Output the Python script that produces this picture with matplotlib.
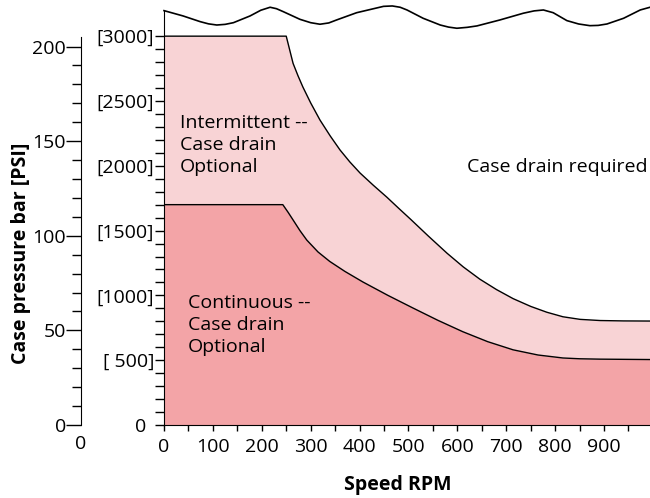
import matplotlib
matplotlib.use("Agg")
import matplotlib.pyplot as plt

plt.rcParams["font.family"] = ["Open Sans", "DejaVu Sans"]

# limit curves (speed rpm -> case pressure psi)
upper_rpm = [0, 250, 257, 264, 274, 284, 300, 319, 340, 360, 380, 401, 428, 456, 480, 505,
             540, 579, 612, 646, 680, 714, 750, 783, 816, 851, 892, 940, 994]
upper_psi = [3000, 3000, 2895, 2790, 2695, 2608, 2485, 2353, 2230, 2122, 2030, 1944, 1850, 1757,
             1672, 1585, 1460, 1325, 1220, 1125, 1045, 975, 915, 870, 835, 815, 806, 803, 802]
lower_rpm = [0, 243, 254, 264, 278, 292, 315, 339, 370, 407, 458, 509, 560, 611, 662, 714,
             765, 816, 850, 892, 994]
lower_psi = [1700, 1700, 1640, 1582, 1500, 1427, 1335, 1262, 1185, 1103, 1000, 903, 808, 720,
             643, 580, 540, 517, 511, 508, 505]

# axis-break wave at the top
wave_rpm = [0, 39, 74, 91, 108, 125, 142, 176, 198, 217, 230, 244, 278, 300, 319, 337, 353,
            394, 449, 467, 483, 497, 530, 565, 582, 599, 620, 640, 687, 735, 757, 776, 796,
            824, 848, 871, 888, 906, 940, 974, 994]
wave_psi = [3197, 3156, 3112, 3095, 3086, 3091, 3104, 3156, 3200, 3223, 3212, 3189, 3130, 3104,
            3092, 3102, 3125, 3181, 3230, 3233, 3223, 3202, 3138, 3086, 3070, 3061, 3068, 3079,
            3125, 3177, 3195, 3202, 3181, 3120, 3094, 3081, 3083, 3094, 3138, 3202, 3223]

psi_ticks = [0, 500, 1000, 1500, 2000, 2500, 3000]
psi_labels = ["0", "[ 500]", "[1000]", "[1500]", "[2000]", "[2500]", "[3000]"]
bar_ticks = [0, 50, 100, 150, 200]
rpm_ticks = [0, 100, 200, 300, 400, 500, 600, 700, 800, 900]

light = "#f8d3d5"
dark = "#f3a4a7"
fs = 14

fig = plt.figure(figsize=(6.5, 4.98), dpi=100)
ax = fig.add_axes([164 / 650, 73 / 498, 486 / 650, 425 / 498])
ax.set_xlim(0, 994)
ax.set_ylim(0, 3279)

ax.fill_between(upper_rpm, upper_psi, color=light, lw=0)
ax.fill_between(lower_rpm, lower_psi, color=dark, lw=0)
ax.plot(upper_rpm, upper_psi, color="black", lw=1, solid_joinstyle="round")
ax.plot(lower_rpm, lower_psi, color="black", lw=1, solid_joinstyle="round")
ax.plot(wave_rpm, wave_psi, color="black", lw=1.2, clip_on=False, solid_joinstyle="round")

for s in ["top", "right"]:
    ax.spines[s].set_visible(False)
ax.spines["left"].set_bounds(0, wave_psi[0])

ax.set_yticks(psi_ticks)
ax.set_yticklabels(psi_labels)
ax.set_yticks(range(0, 3001, 100), minor=True)
ax.tick_params(axis="y", which="both", length=6.5, width=1, pad=0.5, labelsize=fs)
ax.set_xticks(rpm_ticks)
ax.set_xticks(range(50, 951, 100), minor=True)
ax.tick_params(axis="x", which="both", length=4.3, width=1, pad=5, labelsize=fs)
t0 = ax.yaxis.get_major_ticks()[0]
t0.tick1line.set_markersize(11.5)
t0.set_pad(6.5)

ax.text(33, 2160, "Intermittent --\nCase drain\nOptional", fontsize=fs,
        ha="left", va="center", linespacing=1.3)
ax.text(49, 772, "Continuous --\nCase drain\nOptional", fontsize=fs,
        ha="left", va="center", linespacing=1.3)
ax.text(620, 1991, "Case drain required", fontsize=fs, ha="left", va="center")

# bar scale on the far left
bax = fig.add_axes([81 / 650, 73 / 498, 0.05, 425 / 498])
bax.patch.set_visible(False)
for s in ["top", "right", "bottom"]:
    bax.spines[s].set_visible(False)
bax.set_ylim(0, 224.6)
bax.set_xlim(0, 1)
bax.spines["left"].set_bounds(0, 205)
bax.set_yticks(bar_ticks)
bax.set_yticks(range(0, 201, 10), minor=True)
bax.tick_params(axis="y", which="major", length=10.8, width=1, pad=0, labelsize=fs)
bax.tick_params(axis="y", which="minor", length=6.5, width=1)
bax.set_xticks([0])
bax.set_xticklabels(["0"])
bax.tick_params(axis="x", length=0, pad=7.5, labelsize=fs)

fig.text(21 / 650, 1 - 253 / 498, "Case pressure bar [PSI]", rotation=90,
         ha="center", va="center", fontsize=fs, fontweight="bold")
fig.text(398 / 650, 1 - 485 / 498, "Speed RPM", ha="center", va="center",
         fontsize=fs, fontweight="bold")

fig.savefig("out.png", dpi=100)
